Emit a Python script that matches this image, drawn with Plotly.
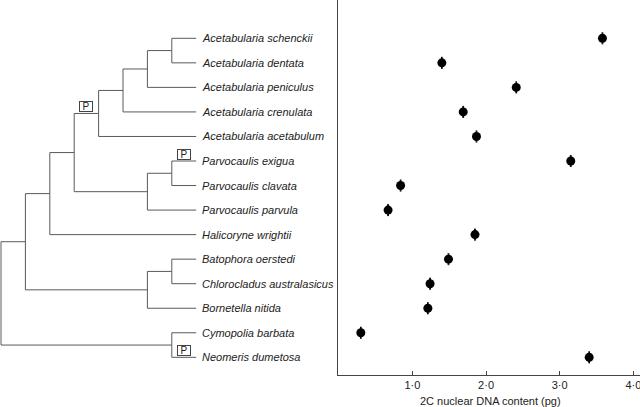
import plotly.graph_objects as go

# ---- data ----
species = [
    "Acetabularia schenckii", "Acetabularia dentata", "Acetabularia peniculus",
    "Acetabularia crenulata", "Acetabularia acetabulum", "Parvocaulis exigua",
    "Parvocaulis clavata", "Parvocaulis parvula", "Halicoryne wrightii",
    "Batophora oerstedi", "Chlorocladus australasicus", "Bornetella nitida",
    "Cymopolia barbata", "Neomeris dumetosa",
]
dna_2c = [3.58, 1.40, 2.41, 1.69, 1.87, 3.15, 0.84, 0.67, 1.85, 1.49, 1.24, 1.21, 0.30, 3.40]
dna_se = [0.005, 0.005, 0.005, 0.005, 0.005, 0.005, 0.005, 0.005, 0.005, 0.005, 0.005, 0.005, 0.005, 0.005]

tick_vals = [1, 2, 3, 4]
tick_text = ["1·0", "2·0", "3·0", "4·0"]
x_title = "2C nuclear DNA content (pg)"

# tree topology: node -> (depth level, children)
tip_depth = 8
tree = {
    "root": (0, ["core", "cymo_neo"]),
    "core": (1, ["dasy", "bato_clade"]),
    "dasy": (2, ["acet_parvo", "Halicoryne wrightii"]),
    "acet_parvo": (3, ["acet", "parvo"]),
    "acet": (4, ["acet5", "Acetabularia acetabulum"]),
    "acet5": (5, ["acet6", "Acetabularia crenulata"]),
    "acet6": (6, ["acet7", "Acetabularia peniculus"]),
    "acet7": (7, ["Acetabularia schenckii", "Acetabularia dentata"]),
    "parvo": (6, ["parvo7", "Parvocaulis parvula"]),
    "parvo7": (7, ["Parvocaulis exigua", "Parvocaulis clavata"]),
    "bato_clade": (6, ["bato7", "Bornetella nitida"]),
    "bato7": (7, ["Batophora oerstedi", "Chlorocladus australasicus"]),
    "cymo_neo": (7, ["Cymopolia barbata", "Neomeris dumetosa"]),
}
# "P" markers: (parent node, child) branch they sit on
p_marks = [("acet_parvo", "acet"), ("parvo7", "Parvocaulis exigua"), ("cymo_neo", "Neomeris dumetosa")]

# ---- tree geometry from topology ----
row = {s: i for i, s in enumerate(species)}
pos = {}

def place(n):
    if n in row:
        pos[n] = (tip_depth, row[n])
        return pos[n]
    d, ch = tree[n]
    ys = [place(c)[1] for c in ch]
    pos[n] = (d, (min(ys) + max(ys)) / 2)
    return pos[n]

place("root")

tx, ty = [], []
for n, (d, ch) in tree.items():
    x0, y0 = pos[n]
    cy = [pos[c][1] for c in ch]
    tx += [x0, x0, None]
    ty += [min(cy), max(cy), None]
    for c in ch:
        tx += [x0, pos[c][0], None]
        ty += [pos[c][1], pos[c][1], None]

FONT = "Liberation Sans, Arial, sans-serif"
fig = go.Figure()
fig.add_trace(go.Scatter(x=tx, y=ty, mode="lines", line=dict(color="#5a5a5a", width=1),
                         xaxis="x", yaxis="y", hoverinfo="skip", showlegend=False))
fig.add_trace(go.Scatter(
    x=dna_2c, y=list(range(len(species))), mode="markers",
    marker=dict(color="black", size=9, symbol="circle"),
    error_x=dict(type="data", array=dna_se, color="black", thickness=1, width=6),
    xaxis="x2", yaxis="y2", showlegend=False))

ann = []
for s in species:
    ann.append(dict(x=tip_depth, y=row[s], xref="x", yref="y", text=s, showarrow=False,
                    xanchor="left", yanchor="middle", xshift=4,
                    font=dict(family=FONT, size=11, color="#222222", style="italic")))
for a, b in p_marks:
    xa, _ = pos[a]
    xb, yb = pos[b]
    ann.append(dict(x=(xa + xb) / 2, y=yb, xref="x", yref="y", text="P", showarrow=False,
                    xanchor="center", yanchor="middle", yshift=7,
                    width=12, height=9, borderwidth=1, bordercolor="#444444", borderpad=0,
                    bgcolor="white",
                    font=dict(family=FONT, size=10, color="#222222")))
ann.append(dict(x=0.767, y=6 / 407, xref="paper", yref="paper", text=x_title, showarrow=False,
                xanchor="center", yanchor="middle",
                font=dict(family=FONT, size=11, color="#222222")))

yr = [13.70, -1.561]
fig.update_layout(
    width=640, height=407, margin=dict(l=0, r=0, t=0, b=0, autoexpand=False),
    paper_bgcolor="white", plot_bgcolor="white",
    font=dict(family=FONT, size=11, color="#222222"),
    xaxis=dict(domain=[0, 338 / 640], range=[-1 / 24.4, 337 / 24.4], visible=False,
               automargin=False),
    yaxis=dict(domain=[32.5 / 407, 1], range=yr, visible=False, automargin=False),
    xaxis2=dict(domain=[338 / 640, 1], range=[-0.01, 4.09], anchor="y2",
                tickvals=tick_vals, ticktext=tick_text, ticks="inside", ticklen=4,
                tickcolor="#444444", showline=True, linecolor="#444444", linewidth=1,
                showgrid=False, zeroline=False, automargin=False,
                ticklabeloverflow="allow",
                tickfont=dict(size=11, color="#222222")),
    yaxis2=dict(domain=[32.5 / 407, 1], range=yr, anchor="x2", showline=True,
                linecolor="#444444", linewidth=1, showticklabels=False, ticks="",
                showgrid=False, zeroline=False, automargin=False),
    annotations=ann,
)
fig.write_html("out.html", config={"displayModeBar": False},
               post_script="document.body.style.margin='0';document.body.style.overflow='hidden';")
